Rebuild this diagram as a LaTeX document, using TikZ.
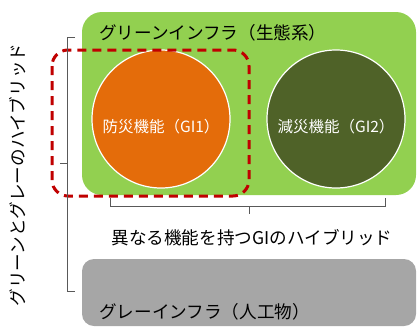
\documentclass[tikz,border=0pt]{standalone}
\usepackage{fontspec}
\setmainfont{Noto Sans CJK JP}
\begin{document}
\begin{tikzpicture}[x=1pt,y=-1pt,
  lbl/.style={font=\fontsize{17.6}{19}\selectfont, text=black, inner sep=0pt},
  ctext/.style={font=\fontsize{15.5}{17}\selectfont, text=white, inner sep=0pt},
  brk/.style={draw=black!65, line width=1pt},
  circ/.style={circle, draw=white, line width=1.2pt, minimum size=138pt, inner sep=0pt}]
\definecolor{gGreen}{HTML}{92D050}
\definecolor{gOrange}{HTML}{E46C0A}
\definecolor{gDark}{HTML}{4F6228}
\definecolor{gGrey}{HTML}{A6A6A6}
\definecolor{gRed}{HTML}{C00000}
\useasboundingbox (0,0) rectangle (417,327);
% boxes
\fill[gGreen, rounded corners=20pt] (82,12) rectangle (416,195);
\fill[gGrey, rounded corners=12pt] (82,259) rectangle (416,326);
% circles
\node[circ, fill=gOrange] (c1) at (161,119) {};
\node[circ, fill=gDark] (c2) at (336,119) {};
\node[ctext] (t1) at ([yshift=-8pt]c1) {防災機能（GI1）};
\node[ctext] (t2) at ([yshift=-8pt]c2) {減災機能（GI2）};
% labels
\node[lbl, anchor=west] (gtop) at (99,33) {グリーンインフラ（生態系）};
\node[lbl, anchor=west] (gbot) at (99,312) {グレーインフラ（人工物）};
\node[lbl] (hyb) at (252,238) {異なる機能を持つGIのハイブリッド};
\node[lbl, rotate=90] (vert) at (18,175) {グリーンとグレーのハイブリッド};
% red dashed
\draw[gRed, line width=3pt, dash pattern=on 9pt off 6pt, rounded corners=16pt] (52,50) rectangle (249,196);
% left bracket
\coordinate (lb1) at (75,37);
\coordinate (lb2) at (75,291);
\coordinate (lbm) at (60,163);
\draw[brk] (lb1) -- (67,37) -- (67,291) -- (lb2);
\draw[brk] (67,163) -- (lbm);
% bottom bracket
\coordinate (bb1) at (110,198);
\coordinate (bb2) at (385,198);
\coordinate (bbm) at (249,214);
\draw[brk] (bb1) -- (110,206) -- (385,206) -- (bb2);
\draw[brk] (249,206) -- (bbm);
\end{tikzpicture}
\end{document}
